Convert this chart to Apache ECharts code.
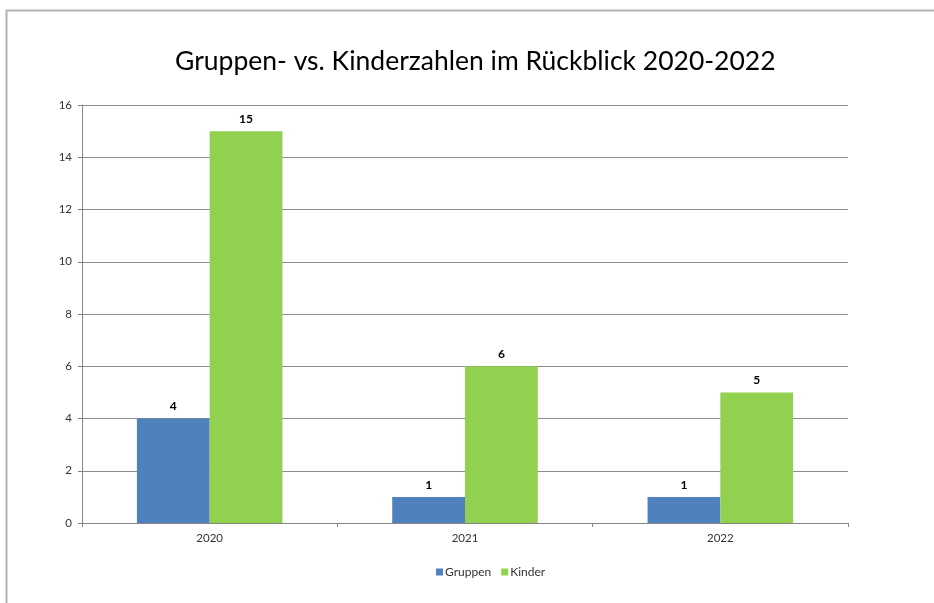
<!DOCTYPE html>
<html>
<head>
<meta charset="utf-8">
<script src="https://cdn.jsdelivr.net/npm/echarts@6/dist/echarts.min.js"></script>
<style>
html,body{margin:0;padding:0;background:#fff;}
#c{width:934px;height:603px;}
</style>
</head>
<body>
<div id="c"></div>
<script>
var categories = ['2020', '2021', '2022'];
var gruppen = [4, 1, 1];
var kinder = [15, 6, 5];
var yTicks = [0, 2, 4, 6, 8, 10, 12, 14, 16];

var chart = echarts.init(document.getElementById('c'));
var font = 'Lato';
chart.setOption({
  animation: false,
  backgroundColor: '#fff',
  graphic: [{
    type: 'rect',
    shape: { x: 6.5, y: 10.5, width: 1000, height: 1000 },
    style: { fill: 'none', stroke: '#b3b3b3', lineWidth: 2 },
    silent: true
  }],
  title: {
    text: 'Gruppen- vs. Kinderzahlen im Rückblick 2020-2022',
    left: 170,
    top: 43,
    textStyle: { fontFamily: font, fontWeight: 'normal', fontSize: 26.5, color: '#000' }
  },
  legend: {
    bottom: 20,
    left: 431,
    itemWidth: 7,
    itemHeight: 7,
    itemGap: 10,
    icon: 'rect',
    textStyle: { fontFamily: font, fontSize: 12, color: '#333', padding: [0, 0, 0, -3] },
    data: ['Gruppen', 'Kinder']
  },
  grid: { left: 82, right: 86, top: 105, bottom: 80, containLabel: false },
  xAxis: {
    type: 'category',
    data: categories,
    axisLine: { lineStyle: { color: '#868686', width: 1 } },
    axisTick: { show: true, length: 4, alignWithLabel: false, lineStyle: { color: '#868686' } },
    axisLabel: { fontFamily: font, fontSize: 11.5, color: '#333', margin: 9 }
  },
  yAxis: {
    type: 'value',
    min: 0,
    max: 16,
    interval: 2,
    axisLine: { show: true, lineStyle: { color: '#868686', width: 1 } },
    axisTick: { show: true, length: 4, lineStyle: { color: '#868686' } },
    axisLabel: { fontFamily: font, fontSize: 11.5, color: '#333', margin: 10,
      formatter: function (v) { return yTicks.indexOf(v) >= 0 ? String(v) : ''; } },
    splitLine: { show: true, lineStyle: { color: '#8c8c8c', width: 1 } }
  },
  series: [{
    name: 'Gruppen',
    type: 'bar',
    data: gruppen,
    barGap: '0%',
    barCategoryGap: '43%',
    itemStyle: { color: '#4f81bd' },
    label: { show: true, position: 'top', distance: 6, fontFamily: font, fontWeight: 'bold', fontSize: 12, color: '#000' }
  }, {
    name: 'Kinder',
    type: 'bar',
    data: kinder,
    barGap: '0%',
    barCategoryGap: '43%',
    itemStyle: { color: '#92d050' },
    label: { show: true, position: 'top', distance: 6, fontFamily: font, fontWeight: 'bold', fontSize: 12, color: '#000' }
  }]
});
</script>
</body>
</html>
